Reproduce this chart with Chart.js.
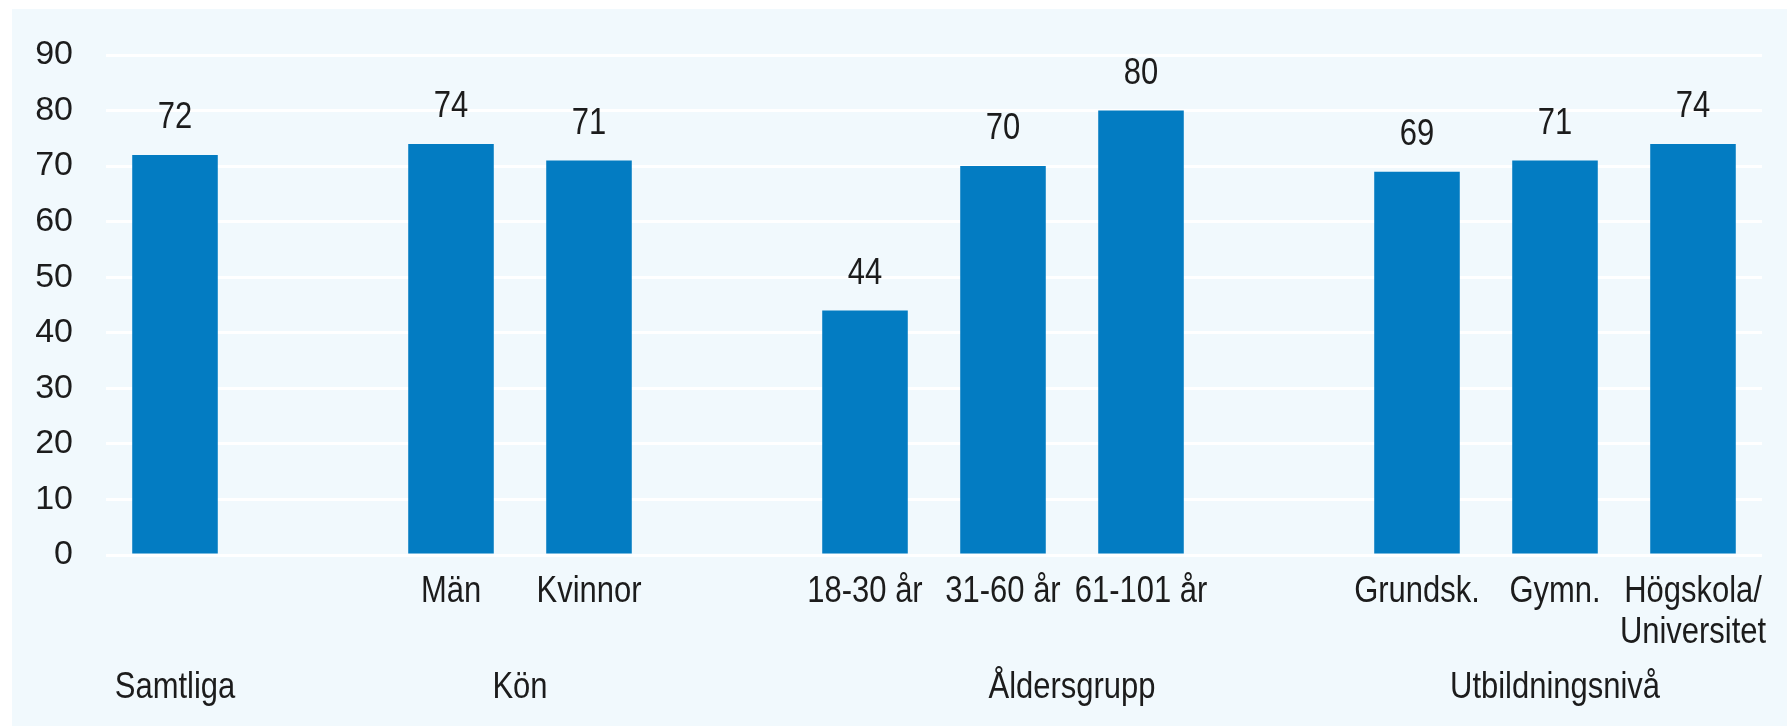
<!DOCTYPE html>
<html>
<head>
<meta charset="utf-8">
<script src="https://cdn.jsdelivr.net/npm/chart.js@4/dist/chart.umd.min.js"></script>
<style>
  html, body { margin: 0; padding: 0; background: #ffffff; }
  #panel {
    position: absolute; left: 12px; top: 9px;
    width: 1775px; height: 717px;
    background: #f1f9fd;
  }
</style>
</head>
<body>
<div id="panel"><canvas id="chart"></canvas></div>
<script>
// categories (empty slots separate the groups)
const categories = ['', '', 'Män', 'Kvinnor', '', '18-30 år', '31-60 år', '61-101 år', '', 'Grundsk.', 'Gymn.', ['Högskola/', 'Universitet']];
const values = [72, null, 74, 71, null, 44, 70, 80, null, 69, 71, 74];
const groupLabels = ['Samtliga', 'Kön', 'Åldersgrupp', 'Utbildningsnivå'];
const groupCenters = [0, 2.5, 6.5, 10];
const yTicks = [0, 10, 20, 30, 40, 50, 60, 70, 80, 90];

const FONT = "'Liberation Sans Narrow', 'Liberation Sans', Arial, sans-serif";
const TEXT = '#1c1c1c';
const SQUEEZE = 0.86; // the original face is a narrow one

function narrowText(ctx, txt, x, y) {
  ctx.save();
  ctx.translate(x, y);
  ctx.scale(SQUEEZE, 1);
  ctx.fillText(txt, 0, 0);
  ctx.restore();
}

const labelsPlugin = {
  id: 'labelsPlugin',
  afterDatasetsDraw(chart) {
    const ctx = chart.ctx;
    const meta = chart.getDatasetMeta(0);
    const x = chart.scales.x;
    ctx.save();
    ctx.fillStyle = TEXT;
    ctx.textAlign = 'center';
    ctx.textBaseline = 'alphabetic';

    // values above bars
    ctx.font = '36px ' + FONT;
    meta.data.forEach(function(bar, i) {
      if (values[i] === null) return;
      narrowText(ctx, String(values[i]), bar.x, bar.y - 27);
    });

    // category labels
    categories.forEach(function(lab, i) {
      const lines = Array.isArray(lab) ? lab : [lab];
      lines.forEach(function(line, j) {
        if (line) narrowText(ctx, line, x.getPixelForValue(i), 593 + j * 41);
      });
    });

    // group labels
    groupLabels.forEach(function(txt, i) {
      narrowText(ctx, txt, x.getPixelForValue(groupCenters[i]), 689);
    });
    ctx.restore();
  }
};

new Chart(document.getElementById('chart'), {
  type: 'bar',
  data: {
    labels: categories,
    datasets: [{
      data: values,
      backgroundColor: '#037cc2',
      borderWidth: 0,
      barPercentage: 0.62,
      categoryPercentage: 1.0
    }]
  },
  plugins: [labelsPlugin],
  options: {
    responsive: true,
    maintainAspectRatio: false,
    animation: false,
    layout: { padding: { left: 0, right: 25, top: 46, bottom: 0 } },
    plugins: {
      legend: { display: false },
      tooltip: { enabled: false }
    },
    scales: {
      x: {
        grid: { display: false, drawTicks: false },
        border: { display: false },
        ticks: { display: false },
        afterFit(scale) { scale.height = 171; }
      },
      y: {
        min: 0,
        max: 90,
        afterBuildTicks(scale) { scale.ticks = yTicks.map(v => ({ value: v })); },
        grid: { color: '#ffffff', lineWidth: 3, drawTicks: false },
        border: { display: false },
        ticks: {
          color: TEXT,
          font: { family: FONT, size: 34 },
          padding: 33
        },
        afterFit(scale) {
          scale.width = 94;
          scale.paddingTop = 0;
          scale.paddingBottom = 0;
        }
      }
    }
  }
});
</script>
</body>
</html>
